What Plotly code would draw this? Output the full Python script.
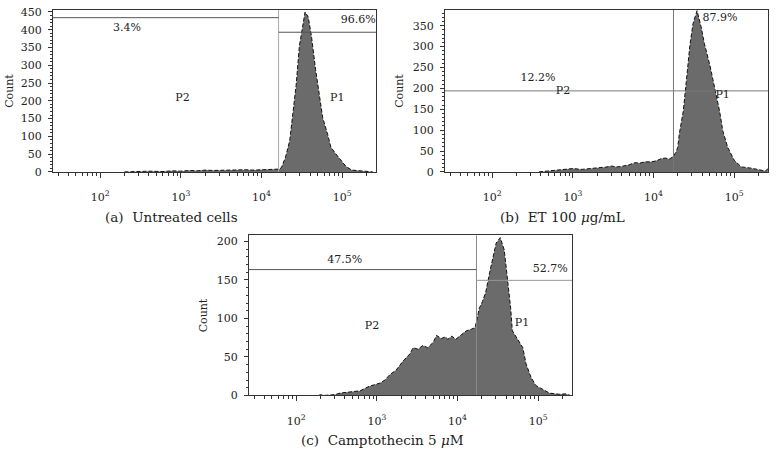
import math
import plotly.graph_objects as go

# ---------------- data ----------------
# (a) Untreated cells
a_fl = [200, 250, 400, 600, 800, 1000, 1300, 1600, 2000, 2500, 3200, 4000, 5000, 6300, 8000,
        10000, 12600, 15000, 17000, 17800, 19900, 22400, 24500, 26900, 29500, 32400, 34700,
        38000, 41700, 46800, 52500, 57500, 66100, 72400, 83200, 95500, 112000, 132000, 178000,
        214000, 240000]
a_count = [0, 1, 2, 1, 3, 2, 4, 3, 5, 4, 5, 4, 5, 6, 5,
           6, 5, 6, 8, 14, 42, 88, 162, 244, 354, 418, 450,
           436, 381, 289, 216, 152, 106, 70, 51, 33, 15, 5, 2,
           1, 0]

# (b) ET 100 ug/mL
b_fl = [380, 500, 680, 1000, 1300, 1700, 2100, 2500, 3000, 3500, 4000, 5000, 5900, 6800, 7800,
        9500, 11000, 12600, 14000, 15800, 17400, 19000, 20000, 20900, 23400, 25700, 28200, 30900,
        34700, 38900, 42700, 50100, 57500, 66100, 72400, 83200, 100000, 123000, 162000, 214000,
        245000, 262000]
b_count = [0, 2, 4, 8, 6, 9, 10, 11, 14, 12, 13, 17, 22, 21, 24,
           24, 27, 32, 33, 31, 36, 47, 59, 91, 145, 222, 301, 355,
           386, 348, 308, 255, 199, 145, 98, 59, 28, 12, 9, 5,
           2, 8]

# (c) Camptothecin 5 uM
c_fl = [190, 200, 220, 300, 350, 470, 620, 810, 1100, 1260, 1450, 1740, 2090, 2570, 2820,
        3240, 3720, 4270, 5010, 5500, 6310, 7080, 7590, 8510, 9550, 11200, 12900, 14800, 16500,
        17200, 18600, 20400, 22400, 25100, 27500, 30200, 33900, 38000, 41700, 45700, 47900,
        55000, 64600, 70800, 81300, 93300, 112000, 138000, 182000, 219000, 250000]
c_count = [0, 1, 0, 1, 3, 5, 6, 12, 16, 20, 27, 33, 44, 54, 62,
           60, 65, 62, 69, 78, 74, 76, 73, 77, 73, 79, 84, 86, 88,
           96, 113, 122, 134, 160, 181, 198, 205, 189, 151, 113, 84,
           73, 62, 41, 24, 13, 8, 3, 1.5, 2, 0]

# gates
a_gate, a_left_level, a_right_level = 16300, 434, 393
b_gate, b_level = 17700, 194
c_gate, c_left_level, c_right_level = 17200, 163.5, 149.5

# region labels: (x, y, text)
a_labels = [(215, 403, "3.4%"), (158000, 428, "96.6%"), (1050, 206, "P2"), (87000, 206, "P1")]
b_labels = [(370, 224, "12.2%"), (755, 192, "P2"), (67000, 367, "87.9%"), (72000, 184, "P1")]
c_labels = [(400, 175, "47.5%"), (141000, 164, "52.7%"), (870, 90, "P2"), (63000, 94, "P1")]

panel_titles = ["(a)  Untreated cells", "(b)  ET 100 <i>μ</i>g/mL", "(c)  Camptothecin 5 <i>μ</i>M"]

x_ticks = [100, 1000, 10000, 100000]
x_ticktext = ["10<sup>2</sup>", "10<sup>3</sup>", "10<sup>4</sup>", "10<sup>5</sup>"]
x_minor = [m * 10 ** d for d in range(1, 6) for m in range(2, 10)]
X_MIN, X_MAX = 26, 263000

y_max = [456, 388, 208]
y_ticks = [list(range(0, 451, 50)), list(range(0, 351, 50)), list(range(0, 201, 50))]

FONT = "DejaVu Serif"
FILL = "#6b6b6b"

fig = go.Figure()

def add_hist(xs, ys, ax):
    fig.add_trace(go.Scatter(x=xs, y=ys, mode="lines", fill="tozeroy", fillcolor=FILL,
                             line=dict(color="#111111", width=1, dash="4px,2px"),
                             xaxis="x" + ax, yaxis="y" + ax, hoverinfo="skip"))

def add_line(xs, ys, ax, color):
    fig.add_trace(go.Scatter(x=xs, y=ys, mode="lines", line=dict(color=color, width=1),
                             xaxis="x" + ax, yaxis="y" + ax, hoverinfo="skip"))

def add_labels(labels, ax):
    fig.add_trace(go.Scatter(x=[l[0] for l in labels], y=[l[1] for l in labels], mode="text",
                             text=[l[2] for l in labels],
                             textfont=dict(family=FONT, size=11, color="#222"),
                             xaxis="x" + ax, yaxis="y" + ax, hoverinfo="skip"))

# panel a
add_hist(a_fl, a_count, "")
add_line([a_gate, a_gate], [0, y_max[0]], "", "#aaaaaa")
add_line([X_MIN, a_gate], [a_left_level, a_left_level], "", "#555555")
add_line([a_gate, X_MAX], [a_right_level, a_right_level], "", "#555555")
add_labels(a_labels, "")

# panel b
add_hist(b_fl, b_count, "2")
add_line([b_gate, b_gate], [0, y_max[1]], "2", "#777777")
add_line([X_MIN, X_MAX], [b_level, b_level], "2", "#777777")
add_labels(b_labels, "2")

# panel c
add_hist(c_fl, c_count, "3")
add_line([c_gate, c_gate], [0, y_max[2]], "3", "#888888")
add_line([X_MIN, c_gate], [c_left_level, c_left_level], "3", "#555555")
add_line([c_gate, X_MAX], [c_right_level, c_right_level], "3", "#999999")
add_labels(c_labels, "3")

W, H = 778, 460
def dom(p0, p1, total, flip=False):
    if flip:
        return [1 - p1 / total, 1 - p0 / total]
    return [p0 / total, p1 / total]

x_doms = [dom(53, 376, W), dom(445, 768, W), dom(249, 572, W)]
y_doms = [dom(6, 172, H, True), dom(6, 172, H, True), dom(237, 401, H, True)]

layout = dict(width=W, height=H, margin=dict(l=0, r=0, t=0, b=0),
              paper_bgcolor="white", plot_bgcolor="white", showlegend=False,
              font=dict(family=FONT, size=11, color="#222"))

for i, suf in enumerate(["", "2", "3"]):
    layout["xaxis" + suf] = dict(
        type="log", range=[math.log10(X_MIN), math.log10(X_MAX)], domain=x_doms[i],
        anchor="y" + suf, tickvals=x_ticks, ticktext=x_ticktext, ticks="outside",
        ticklen=5, tickcolor="#333", tickwidth=1, showline=True, mirror=True,
        linecolor="#333", linewidth=1, showgrid=False, zeroline=False,
        ticklabelstandoff=10, tickfont=dict(family=FONT, size=11, color="#222"),
        minor=dict(tickvals=x_minor, ticks="outside", ticklen=3, tickcolor="#333", showgrid=False),
        fixedrange=True)
    layout["yaxis" + suf] = dict(
        range=[0, y_max[i]], domain=y_doms[i], anchor="x" + suf, tickvals=y_ticks[i],
        ticks="outside", ticklen=4, tickcolor="#333", tickwidth=1, showline=True, mirror=True,
        linecolor="#333", linewidth=1, showgrid=False, zeroline=False,
        ticklabelstandoff=4, tickfont=dict(family=FONT, size=11, color="#222"),
        minor=dict(dtick=10, ticks="outside", ticklen=2, tickcolor="#333", showgrid=False),
        fixedrange=True)

annotations = []
count_pos = [(10, 89), (400, 89), (203, 319)]
for (px, py) in count_pos:
    annotations.append(dict(x=px / W, y=1 - py / H, xref="paper", yref="paper", text="Count",
                            textangle=-90, showarrow=False, xanchor="center", yanchor="middle",
                            font=dict(family=FONT, size=11, color="#222")))
title_pos = [(171, 218), (562, 218), (382, 447)]
for (px, py), t in zip(title_pos, panel_titles):
    annotations.append(dict(x=px / W, y=1 - py / H, xref="paper", yref="paper", text=t,
                            showarrow=False, xanchor="center", yanchor="middle",
                            font=dict(family=FONT, size=13.5, color="#222")))
layout["annotations"] = annotations

fig.update_layout(**layout)
fig.write_html("out.html", config={"displayModeBar": False},
               post_script="document.body.style.margin='0px';document.body.style.overflow='hidden';")
